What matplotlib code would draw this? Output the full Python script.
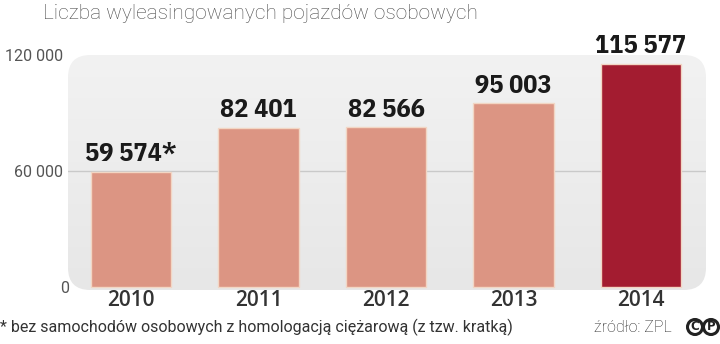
import numpy as np
import matplotlib
matplotlib.use("Agg")
import matplotlib.pyplot as plt
from matplotlib.patches import FancyBboxPatch, Circle
from matplotlib.transforms import ScaledTranslation
from matplotlib.colors import LinearSegmentedColormap

years = ["2010", "2011", "2012", "2013", "2014"]
values = [59574, 82401, 82566, 95003, 115577]
value_labels = ["59 574*", "82 401", "82 566", "95 003", "115 577"]
bar_colors = ["#dc9583", "#dc9583", "#dc9583", "#dc9583", "#a31c30"]
yticks = [0, 60000, 120000]
ytick_labels = ["0", "60 000", "120 000"]
title = "Liczba wyleasingowanych pojazdów osobowych"
footnote = "* bez samochodów osobowych z homologacją ciężarową (z tzw. kratką)"
source = "źródło: ZPL"

COND = ["IBM Plex Sans Condensed", "DejaVu Sans"]

fig = plt.figure(figsize=(7.2, 3.44), dpi=100)
fig.patch.set_facecolor("white")
ax = fig.add_axes([68/720, (344-290)/344, 638/720, (290-55)/344])
ax.set_facecolor("none")
for s in ax.spines.values():
    s.set_visible(False)

x = np.arange(len(years))

# rounded panel with slight gradient
panel = FancyBboxPatch((0, 0), 1, 1, boxstyle="round,pad=0,rounding_size=0.035",
                       mutation_aspect=638/235, transform=ax.transAxes,
                       facecolor="none", edgecolor="none", zorder=0)
ax.add_patch(panel)
grad = np.linspace(0, 1, 256).reshape(-1, 1)
cmap = LinearSegmentedColormap.from_list("g", ["#f2f2f2", "#e7e7e7"])
im = ax.imshow(grad, extent=[0, 1, 0, 1], transform=ax.transAxes, cmap=cmap,
               aspect="auto", zorder=0, interpolation="bilinear")
im.set_clip_path(panel)
ax.set_xlim(-0.494, 4.51)
ax.set_ylim(-1552, 120000)

ax.axhline(60000, color="#c9c9c9", lw=1, zorder=1)

ax.bar(x, values, width=0.63, color=bar_colors, edgecolor="#f2d6c4",
       linewidth=1.0, zorder=2)

for xi, v, lab in zip(x, values, value_labels):
    ax.annotate(lab, (xi, v), xytext=(0, 7.5), textcoords="offset points",
                ha="center", va="baseline", fontsize=19, fontweight="bold",
                family=COND, color="#1a1a1a",
                annotation_clip=False, zorder=3)

ax.set_xticks(x)
ax.set_xticklabels(years, fontsize=15, fontweight="semibold", family="Open Sans",
                   color="#333333")
ax.tick_params(axis="x", length=0, pad=0)
ax.set_yticks(yticks)
ax.set_yticklabels(ytick_labels, fontsize=11.5, family="Roboto", color="#555555")
ax.tick_params(axis="y", length=0, pad=3.6)
offsets = {"120 000": 0, "60 000": 0, "0": 6}
for lbl, t in zip(ax.get_yticklabels(), ytick_labels):
    lbl.set_transform(lbl.get_transform() + ScaledTranslation(offsets[t]/100, 0, fig.dpi_scale_trans))

fig.text(43/720, 1 - 19/344, title, fontsize=15, family="Roboto", fontweight="light",
         color="#4a4a4a", ha="left", va="baseline")
fig.text(0/720, 1 - 332/344, footnote, fontsize=11.5, family="Roboto",
         color="#333333", ha="left", va="baseline")
fig.text(672/720, 1 - 332/344, source, fontsize=11.5, family="Roboto",
         fontweight="light", color="#222222", ha="right", va="baseline")

for cx, letter in [(695, "C"), (711, "P")]:
    c = Circle((cx/100, (344 - 327)/100), 7.5/100, transform=fig.dpi_scale_trans,
               facecolor="white", edgecolor="#222222", linewidth=2.2)
    fig.add_artist(c)
    fig.text(cx/720, 1 - 327/344, letter, fontsize=8.5, fontweight="bold",
             color="#222222", ha="center", va="center")

fig.savefig("out.png", dpi=100)
